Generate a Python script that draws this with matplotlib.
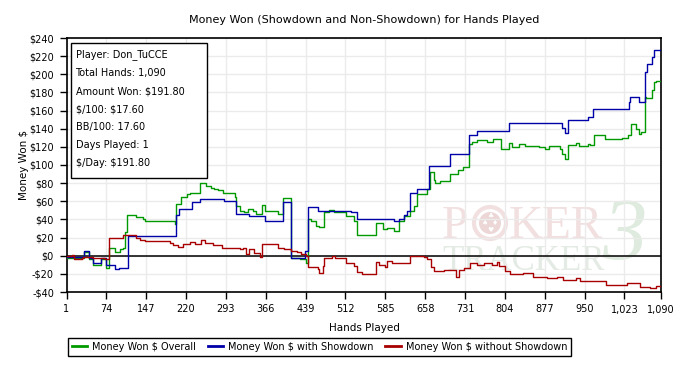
import matplotlib
matplotlib.use("Agg")
import matplotlib.pyplot as plt
from matplotlib.patches import Rectangle, Ellipse
from matplotlib.lines import Line2D

# step series: (hand where the value starts, $ value)
overall_hands = [1, 33, 43, 49, 64, 73, 79, 89, 99, 105, 109, 111, 129, 141, 145, 199, 202, 210, 221,
                 227, 245, 257, 266, 272, 278, 288, 309, 312, 318, 327, 333, 342, 348, 359, 364, 388,
                 397, 412, 428, 440, 444, 449, 458, 464, 472, 482, 491, 513, 528, 534, 568, 580, 589,
                 601, 610, 619, 631, 637, 643, 662, 667, 674, 676, 686, 703, 718, 727, 738, 744, 753,
                 771, 783, 796, 812, 817, 829, 841, 866, 878, 884, 905, 908, 915, 920, 934, 939, 957,
                 960, 968, 987, 1018, 1030, 1035, 1045, 1050, 1054, 1061, 1063, 1074, 1077, 1081, 1090]
overall_vals = [-2, 4.5, -4, -9.7, -4, -14, 9, 4.4, 7, 8.5, 26.5, 45, 43, 41, 38.5, 35, 57, 64.4, 68,
                69, 80, 77, 75, 73, 72, 69, 64.4, 55, 49.6, 48, 51, 49, 46, 56, 49.6, 46,
                63.3, -3, -4, -8, 41, 38, 33, 32, 47.8, 50.7, 48.5, 44, 38.5, 22.5, 36, 29, 31,
                27.3, 38.5, 44, 49.6, 55, 68, 73.7, 92, 83, 80, 82.5, 90.3, 94, 97.8, 123.7, 125.5, 127.3,
                125, 129, 118, 124.4, 120, 122.6, 121, 120, 118, 121, 118, 112.5, 107, 121.8, 124.8, 121, 123,
                122, 133, 129, 130, 133, 145, 140, 133.7, 136, 175.5, 173.6, 183, 192, 193, 193]

showdown_hands = [1, 33, 43, 49, 64, 73, 89, 98, 114, 202, 207, 230, 245, 289, 312, 336, 364, 397,
                  412, 438, 444, 461, 522, 534, 601, 610, 619, 625, 631, 643, 665, 703, 738, 753,
                  811, 908, 914, 920, 957, 966, 1031, 1034, 1050, 1061, 1064, 1074, 1077, 1090]
showdown_vals = [-1, 5, -3, -8, -3, -10, -15, -14, 22, 45, 52, 59, 63, 60, 46, 44, 38.5, 59,
                 -3, 5, 54, 49.6, 48, 41, 38.5, 41, 45, 49.6, 69, 73, 99, 112.5, 133, 137,
                 146, 141, 135, 150, 153, 161.4, 169, 175.5, 169, 203, 211, 219, 226.7, 226.7]

no_showdown_hands = [1, 11, 14, 29, 32, 50, 62, 72, 78, 79, 93, 105, 129, 135, 145, 190, 196, 205,
                     215, 227, 236, 248, 254, 269, 285, 318, 324, 330, 336, 345, 355, 359, 388, 400,
                     412, 424, 430, 440, 443, 461, 464, 470, 473, 488, 492, 513, 528, 534, 543, 568,
                     574, 585, 589, 598, 616, 631, 656, 662, 668, 674, 692, 714, 720, 729, 741, 753,
                     765, 780, 789, 793, 805, 814, 838, 856, 881, 899, 911, 934, 942, 990, 1027, 1051,
                     1069, 1081, 1090]
no_showdown_vals = [0, 1, -4, -3, -1, -2, -3, -4, -1, 19, 20, 22.5, 19.5, 17.5, 16, 14, 12, 9.5,
                    12.5, 15, 12.5, 17, 14.5, 11.5, 9, 7, 9, 1.5, 7, 3, -1, 12.5, 9, 7,
                    5, 4, 1.5, 0, -12.5, -15, -19, -11, -2, 0, -3, -8, -11, -18, -20, -7,
                    -10, -12, -6, -8, -7.5, 0, -1, -4, -12, -17, -16, -23, -16, -13, -8, -10,
                    -8, -10, -6.5, -11, -17, -20, -19, -23, -25, -23, -27, -24.5, -28, -32, -30, -34.5,
                    -36, -33, -34.7]

x_ticks = [1, 74, 147, 220, 293, 366, 439, 512, 585, 658, 731, 804, 877, 950, 1023, 1090]
y_ticks = list(range(-40, 241, 20))

info_lines = ["Player: Don_TuCCE", "Total Hands: 1,090", "Amount Won: $191.80", "$/100: $17.60",
              "BB/100: 17.60", "Days Played: 1", "$/Day: $191.80"]

W, H = 682, 378
fig = plt.figure(figsize=(W / 100, H / 100), dpi=100, facecolor="white")


def fx(x):
    return x / W


def fy(y):
    return 1 - y / H


ax = fig.add_axes([fx(66.5), fy(292), fx(661) - fx(66.5), fy(38) - fy(292)])

green = "#009a00"
blue = "#0000a8"
red = "#a80000"

ax.plot(overall_hands, overall_vals, drawstyle="steps-post", color=green, lw=1.0, zorder=3)
ax.plot(showdown_hands, showdown_vals, drawstyle="steps-post", color=blue, lw=1.0, zorder=4)
ax.plot(no_showdown_hands, no_showdown_vals, drawstyle="steps-post", color=red, lw=1.0, zorder=5)
ax.axhline(0, color="black", lw=1.1, zorder=2)

ax.set_xlim(1, 1090)
ax.set_ylim(-40, 240)
ax.set_xticks(x_ticks)
ax.set_xticklabels([f"{t:,}" for t in x_ticks], fontsize=7)
ax.set_yticks(y_ticks)
ax.set_yticklabels([f"${t}" if t >= 0 else f"-${-t}" for t in y_ticks], fontsize=7)
ax.tick_params(direction="out", length=5, width=1, color="black", pad=4)
ax.grid(True, color="#ebebeb", lw=1.0, zorder=0)
ax.set_axisbelow(True)
ax.patch.set_alpha(0)
for s in ax.spines.values():
    s.set_linewidth(1.2)
    s.set_color("black")

fig.text(fx(364), fy(20), "Money Won (Showdown and Non-Showdown) for Hands Played",
         ha="center", va="center", fontsize=8)
fig.text(fx(364), fy(328), "Hands Played", ha="center", va="center", fontsize=7.5)
fig.text(fx(24), fy(165), "Money Won $", ha="center", va="center", rotation=90, fontsize=7.5)

# watermark (behind the transparent axes)
pink = "#f2e0e0"
fig.text(fx(442), fy(238), "P", ha="left", va="baseline", fontsize=34, family="Liberation Serif",
         color=pink, zorder=-2)
fig.text(fx(509), fy(238), "KER", ha="left", va="baseline", fontsize=34, family="Liberation Serif",
         color=pink, zorder=-2)
fig.patches.append(Ellipse((fx(490), fy(223)), 32 / W, 32 / H, transform=fig.transFigure,
                           facecolor="none", edgecolor=pink, lw=3, zorder=-2))
fig.patches.append(Ellipse((fx(490), fy(223)), 22 / W, 22 / H, transform=fig.transFigure,
                           facecolor="#ecd6d6", edgecolor="none", zorder=-2))
for sx, sy, sym in [(490, 216, "\u2663"), (485, 223, "\u2660"), (495, 223, "\u2666"),
                    (490, 230, "\u2665")]:
    fig.text(fx(sx), fy(sy), sym, ha="center", va="center", fontsize=5, color="white", zorder=-1)
fig.text(fx(442), fy(270), "TRACKER", ha="left", va="baseline", fontsize=25,
         family="Liberation Serif", color="#e4eae4", zorder=-2)
fig.text(fx(624), fy(238), "3", ha="center", va="center", fontsize=64, family="Liberation Serif",
         style="italic", color="#deebde", zorder=-2)

# info box
fig.patches.append(Rectangle((fx(71), fy(178)), fx(207) - fx(71), fy(43) - fy(178),
                             transform=fig.transFigure, facecolor="white", edgecolor="black",
                             lw=1.0, zorder=6))
for i, line in enumerate(info_lines):
    fig.text(fx(75.5), fy(55 + 18 * i), line, ha="left", va="center", fontsize=7, zorder=7,
             parse_math=False)

handles = [Line2D([], [], color=green, lw=2), Line2D([], [], color=blue, lw=2),
           Line2D([], [], color=red, lw=2)]
labels = ["Money Won $ Overall", "Money Won $ with Showdown", "Money Won $ without Showdown"]
leg = fig.legend(handles, labels, loc="upper left", bbox_to_anchor=(fx(68), fy(338)),
                 bbox_transform=fig.transFigure, ncol=3, fontsize=7, frameon=True, fancybox=False,
                 edgecolor="black", framealpha=1, handlelength=1.6, handletextpad=0.5,
                 columnspacing=1.2, borderpad=0.4, borderaxespad=0)
leg.get_frame().set_linewidth(1.0)

fig.savefig("out.png", dpi=100, facecolor="white")
